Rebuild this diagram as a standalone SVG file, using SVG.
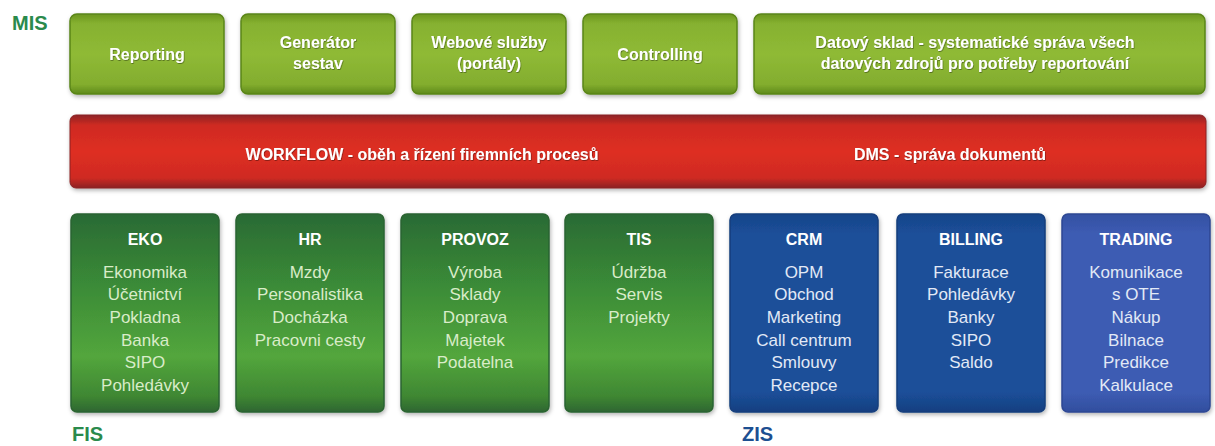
<svg xmlns="http://www.w3.org/2000/svg" width="1215" height="446" viewBox="0 0 1215 446">
<style>
  text { font-family: "Liberation Sans", Arial, sans-serif; text-anchor: middle; }
  .sec { font-weight: bold; font-size: 20px; text-anchor: start; }
  .top { fill: #ffffff; font-weight: bold; font-size: 16px; }
  .bar { fill: #ffffff; font-weight: bold; font-size: 16px; }
  .title { fill: #ffffff; font-weight: bold; font-size: 16px; }
  .itg { fill: #d9ecc9; font-size: 17px; }
  .itb { fill: #e2e9f6; font-size: 17px; }
  .lime { fill: url(#gLime); stroke: #5a8519; stroke-width: 1.5; }
  .green { fill: url(#gGreen); stroke: #2a6330; stroke-width: 1.5; }
  .blue { fill: url(#gBlue); stroke: #143e7c; stroke-width: 1.5; }
  .violet { fill: url(#gViolet); stroke: #2d4793; stroke-width: 1.5; }
</style>
<defs>
  <filter id="sh" x="-5%" y="-5%" width="112%" height="115%">
    <feDropShadow dx="1" dy="2" stdDeviation="2" flood-color="#000" flood-opacity="0.3"/>
  </filter>
  <filter id="tsh" x="-5%" y="-20%" width="110%" height="150%">
    <feDropShadow dx="0.6" dy="0.8" stdDeviation="0.6" flood-color="#000" flood-opacity="0.45"/>
  </filter>
  <linearGradient id="gLime" x1="0" y1="0" x2="0" y2="1">
    <stop offset="0" stop-color="#6b9620"/>
    <stop offset="0.12" stop-color="#86b130"/>
    <stop offset="0.5" stop-color="#8fba36"/>
    <stop offset="0.88" stop-color="#83ad2e"/>
    <stop offset="1" stop-color="#5d8a1b"/>
  </linearGradient>
  <linearGradient id="gRed" x1="0" y1="0" x2="0" y2="1">
    <stop offset="0" stop-color="#8e2426"/>
    <stop offset="0.14" stop-color="#cf2a22"/>
    <stop offset="0.5" stop-color="#de2f20"/>
    <stop offset="0.86" stop-color="#cf2a21"/>
    <stop offset="1" stop-color="#8c2223"/>
  </linearGradient>
  <linearGradient id="gGreen" x1="0" y1="0" x2="0" y2="1">
    <stop offset="0" stop-color="#2a6a34"/>
    <stop offset="0.35" stop-color="#3a8a37"/>
    <stop offset="0.72" stop-color="#53a63c"/>
    <stop offset="0.92" stop-color="#3f8733"/>
    <stop offset="1" stop-color="#2d6630"/>
  </linearGradient>
  <linearGradient id="gBlue" x1="0" y1="0" x2="0" y2="1">
    <stop offset="0" stop-color="#174489"/>
    <stop offset="0.1" stop-color="#1b4f99"/>
    <stop offset="0.9" stop-color="#1b4f99"/>
    <stop offset="1" stop-color="#163f80"/>
  </linearGradient>
  <linearGradient id="gViolet" x1="0" y1="0" x2="0" y2="1">
    <stop offset="0" stop-color="#3350a2"/>
    <stop offset="0.1" stop-color="#3d5cb3"/>
    <stop offset="0.9" stop-color="#3d5cb3"/>
    <stop offset="1" stop-color="#314e9e"/>
  </linearGradient>
</defs>
<rect width="1215" height="446" fill="#ffffff"/>

<text class="sec" x="12" y="30" fill="#2a8a4c">MIS</text>
<text class="sec" x="72" y="441" fill="#2a8a4c">FIS</text>
<text class="sec" x="742" y="441" fill="#1d4f91">ZIS</text>

<g id="reporting">
  <rect class="lime" x="70" y="14" width="154" height="80" rx="7" filter="url(#sh)"/>
  <text class="top" x="147" y="60" filter="url(#tsh)">Reporting</text>
</g>
<g id="generator">
  <rect class="lime" x="241" y="14" width="154" height="80" rx="7" filter="url(#sh)"/>
  <text class="top" x="318" y="48" filter="url(#tsh)">Generátor</text>
  <text class="top" x="318" y="69" filter="url(#tsh)">sestav</text>
</g>
<g id="webove">
  <rect class="lime" x="412" y="14" width="154" height="80" rx="7" filter="url(#sh)"/>
  <text class="top" x="489" y="48" filter="url(#tsh)">Webové služby</text>
  <text class="top" x="489" y="69" filter="url(#tsh)">(portály)</text>
</g>
<g id="controlling">
  <rect class="lime" x="583" y="14" width="154" height="80" rx="7" filter="url(#sh)"/>
  <text class="top" x="660" y="60" filter="url(#tsh)">Controlling</text>
</g>
<g id="datovy">
  <rect class="lime" x="754" y="14" width="451" height="80" rx="7" filter="url(#sh)"/>
  <text class="top" x="975" y="48" filter="url(#tsh)">Datový sklad - systematické správa všech</text>
  <text class="top" x="975" y="69" filter="url(#tsh)">datových zdrojů pro potřeby reportování</text>
</g>

<g id="workflow">
  <rect x="70" y="115" width="1136" height="73" rx="6" fill="url(#gRed)" stroke="#8a2224" stroke-width="1" filter="url(#sh)"/>
  <text class="bar" x="422" y="160" filter="url(#tsh)">WORKFLOW - oběh a řízení firemních procesů</text>
  <text class="bar" x="950" y="160" filter="url(#tsh)">DMS - správa dokumentů</text>
</g>

<g id="eko">
  <rect class="green" x="71" y="214" width="148" height="198" rx="6" filter="url(#sh)"/>
  <text class="title" x="145" y="245">EKO</text>
  <text class="itg" x="145" y="278">Ekonomika</text>
  <text class="itg" x="145" y="300">Účetnictví</text>
  <text class="itg" x="145" y="323">Pokladna</text>
  <text class="itg" x="145" y="346">Banka</text>
  <text class="itg" x="145" y="368">SIPO</text>
  <text class="itg" x="145" y="391">Pohledávky</text>
</g>
<g id="hr">
  <rect class="green" x="236" y="214" width="148" height="198" rx="6" filter="url(#sh)"/>
  <text class="title" x="310" y="245">HR</text>
  <text class="itg" x="310" y="278">Mzdy</text>
  <text class="itg" x="310" y="300">Personalistika</text>
  <text class="itg" x="310" y="323">Docházka</text>
  <text class="itg" x="310" y="346">Pracovni cesty</text>
</g>
<g id="provoz">
  <rect class="green" x="401" y="214" width="148" height="198" rx="6" filter="url(#sh)"/>
  <text class="title" x="475" y="245">PROVOZ</text>
  <text class="itg" x="475" y="278">Výroba</text>
  <text class="itg" x="475" y="300">Sklady</text>
  <text class="itg" x="475" y="323">Doprava</text>
  <text class="itg" x="475" y="346">Majetek</text>
  <text class="itg" x="475" y="368">Podatelna</text>
</g>
<g id="tis">
  <rect class="green" x="565" y="214" width="148" height="198" rx="6" filter="url(#sh)"/>
  <text class="title" x="639" y="245">TIS</text>
  <text class="itg" x="639" y="278">Údržba</text>
  <text class="itg" x="639" y="300">Servis</text>
  <text class="itg" x="639" y="323">Projekty</text>
</g>
<g id="crm">
  <rect class="blue" x="730" y="214" width="148" height="198" rx="6" filter="url(#sh)"/>
  <text class="title" x="804" y="245">CRM</text>
  <text class="itb" x="804" y="278">OPM</text>
  <text class="itb" x="804" y="300">Obchod</text>
  <text class="itb" x="804" y="323">Marketing</text>
  <text class="itb" x="804" y="346">Call centrum</text>
  <text class="itb" x="804" y="368">Smlouvy</text>
  <text class="itb" x="804" y="391">Recepce</text>
</g>
<g id="billing">
  <rect class="blue" x="897" y="214" width="148" height="198" rx="6" filter="url(#sh)"/>
  <text class="title" x="971" y="245">BILLING</text>
  <text class="itb" x="971" y="278">Fakturace</text>
  <text class="itb" x="971" y="300">Pohledávky</text>
  <text class="itb" x="971" y="323">Banky</text>
  <text class="itb" x="971" y="346">SIPO</text>
  <text class="itb" x="971" y="368">Saldo</text>
</g>
<g id="trading">
  <rect class="violet" x="1062" y="214" width="148" height="198" rx="6" filter="url(#sh)"/>
  <text class="title" x="1136" y="245">TRADING</text>
  <text class="itb" x="1136" y="278">Komunikace</text>
  <text class="itb" x="1136" y="300">s OTE</text>
  <text class="itb" x="1136" y="323">Nákup</text>
  <text class="itb" x="1136" y="346">Bilnace</text>
  <text class="itb" x="1136" y="368">Predikce</text>
  <text class="itb" x="1136" y="391">Kalkulace</text>
</g>

<g id="connectors"></g>
</svg>
